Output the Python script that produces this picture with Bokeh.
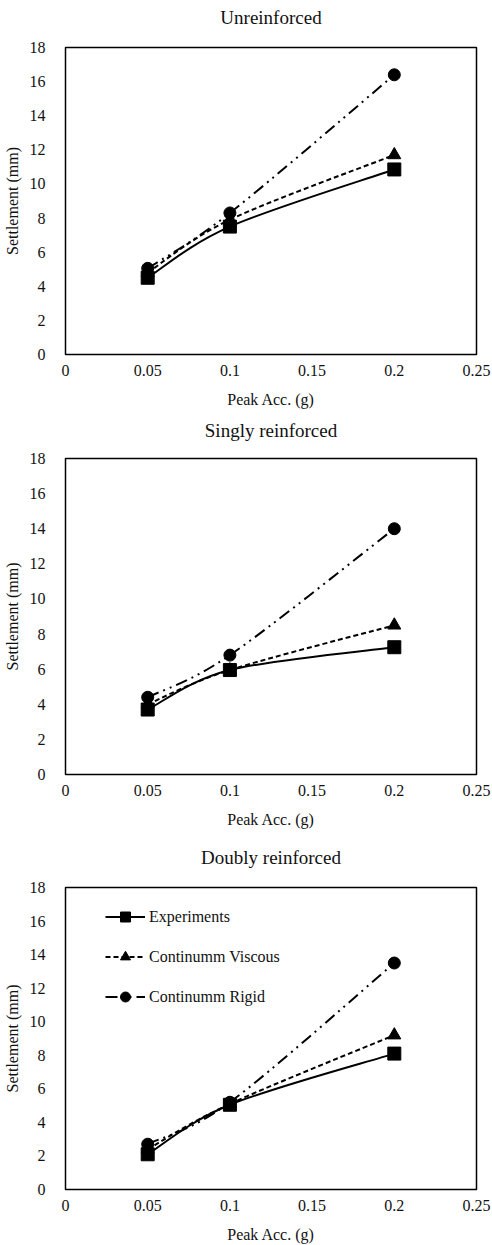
import math
from bokeh.plotting import figure
from bokeh.layouts import column
from bokeh.models import FixedTicker, Range1d, Legend, LegendItem, ColumnDataSource, Title
from bokeh.embed import file_html
from bokeh.resources import INLINE

# ---- data ----
acc = [0.05, 0.1, 0.2]
x_ticks = [0, 0.05, 0.1, 0.15, 0.2, 0.25]
x_tick_labels = ["0", "0.05", "0.1", "0.15", "0.2", "0.25"]
y_ticks = [0, 2, 4, 6, 8, 10, 12, 14, 16, 18]

titles = ["Unreinforced", "Singly reinforced", "Doubly reinforced"]
series_names = ["Experiments", "Continumm Viscous", "Continumm Rigid"]

unr_exp = [4.5, 7.5, 10.85]
unr_visc = [4.8, 7.9, 11.7]
unr_rigid = [5.05, 8.3, 16.4]

sing_exp = [3.7, 5.95, 7.25]
sing_visc = [4.0, 5.95, 8.5]
sing_rigid = [4.4, 6.8, 14.0]

dbl_exp = [2.1, 5.05, 8.1]
dbl_visc = [2.4, 5.1, 9.2]
dbl_rigid = [2.7, 5.2, 13.5]

FONT = "Liberation Serif, Times New Roman, serif"
TXT = "#111111"

styles = [
    dict(dash="solid", marker="square", size=13),
    dict(dash="5 3", marker="triangle", size=13),
    dict(dash="12 5 2 5 2 5", marker="circle", size=12),
]


def smooth(xs, ys):
    """Excel-like smoothed line: cubic Bezier segments from the data points."""
    n = len(xs)
    out = dict(x0=[], y0=[], x1=[], y1=[], cx0=[], cy0=[], cx1=[], cy1=[])
    for i in range(n - 1):
        pm = i - 1 if i > 0 else i
        pp = i + 2 if i + 2 < n else i + 1
        out["x0"].append(xs[i]); out["y0"].append(ys[i])
        out["x1"].append(xs[i + 1]); out["y1"].append(ys[i + 1])
        out["cx0"].append(xs[i] + (xs[i + 1] - xs[pm]) / 6)
        out["cy0"].append(ys[i] + (ys[i + 1] - ys[pm]) / 6)
        out["cx1"].append(xs[i + 1] - (xs[pp] - xs[i]) / 6)
        out["cy1"].append(ys[i + 1] - (ys[pp] - ys[i]) / 6)
    return out


def make_chart(title, data, height, borders, gap, legend=False):
    left, right, top, bottom = borders
    p = figure(width=492, height=height, output_backend="svg", toolbar_location=None,
               x_range=Range1d(0, 0.25), y_range=Range1d(0, 18),
               min_border_left=left, min_border_right=right,
               min_border_top=top, min_border_bottom=bottom)
    p.grid.visible = False
    p.outline_line_color = "black"
    p.outline_line_width = 1.5
    p.background_fill_color = "white"
    p.border_fill_color = "white"

    # spacer between the frame and the title (closest to the frame)
    p.add_layout(Title(text=" ", text_font_size="8px", standoff=gap), "above")
    p.title.text = title
    p.title.align = "center"
    p.title.text_font = FONT
    p.title.text_font_size = "19px"
    p.title.text_font_style = "normal"
    p.title.text_color = TXT
    p.title.standoff = 0

    xa = p.xaxis[0]
    ya = p.yaxis[0]
    xa.ticker = FixedTicker(ticks=x_ticks)
    xa.major_label_overrides = {t: l for t, l in zip(x_ticks, x_tick_labels)}
    ya.ticker = FixedTicker(ticks=y_ticks)
    for ax in (xa, ya):
        ax.axis_line_color = None
        ax.major_tick_line_color = None
        ax.minor_tick_line_color = None
        ax.major_label_text_font = FONT
        ax.major_label_text_font_size = "16px"
        ax.major_label_text_font_style = "normal"
        ax.major_label_text_color = TXT
        ax.axis_label_text_font = FONT
        ax.axis_label_text_font_size = "16px"
        ax.axis_label_text_font_style = "normal"
        ax.axis_label_text_color = TXT
    xa.axis_label = "Peak Acc. (g)"
    ya.axis_label = "Settlement (mm)"
    xa.major_label_standoff = 4
    ya.major_label_standoff = 14
    xa.axis_label_standoff = 12
    ya.axis_label_standoff = 6

    items = []
    for name, ys, st in zip(series_names, data, styles):
        src = ColumnDataSource(smooth(acc, ys))
        p.bezier(x0="x0", y0="y0", x1="x1", y1="y1", cx0="cx0", cy0="cy0",
                 cx1="cx1", cy1="cy1", source=src, line_color="black",
                 line_width=2, line_dash=st["dash"])
        sc = p.scatter(acc, ys, marker=st["marker"], size=st["size"],
                       fill_color="black", line_color="black")
        leg_line = p.line(x=[math.nan], y=[math.nan], line_color="black",
                          line_width=2, line_dash=st["dash"])
        items.append(LegendItem(label=name, renderers=[leg_line, sc]))

    if legend:
        lg = Legend(items=items, location=(40, 180))
        lg.label_text_font = FONT
        lg.label_text_font_size = "16px"
        lg.label_text_color = TXT
        lg.glyph_width = 40
        lg.glyph_height = 25
        lg.label_height = 25
        lg.spacing = 15
        lg.padding = 0
        lg.margin = 0
        lg.label_standoff = 4
        lg.border_line_color = None
        lg.background_fill_alpha = 0
        p.add_layout(lg, "center")
    return p


p1 = make_chart(titles[0], [unr_exp, unr_visc, unr_rigid], 410, (61, 16, 47, 55), 9)
p2 = make_chart(titles[1], [sing_exp, sing_visc, sing_rigid], 420, (57, 14, 48, 52), 7)
p3 = make_chart(titles[2], [dbl_exp, dbl_visc, dbl_rigid], 415, (56, 14, 57, 54), 9, legend=True)

layout = column(p1, p2, p3, spacing=0)
open("out.html", "w").write(file_html(layout, INLINE))
